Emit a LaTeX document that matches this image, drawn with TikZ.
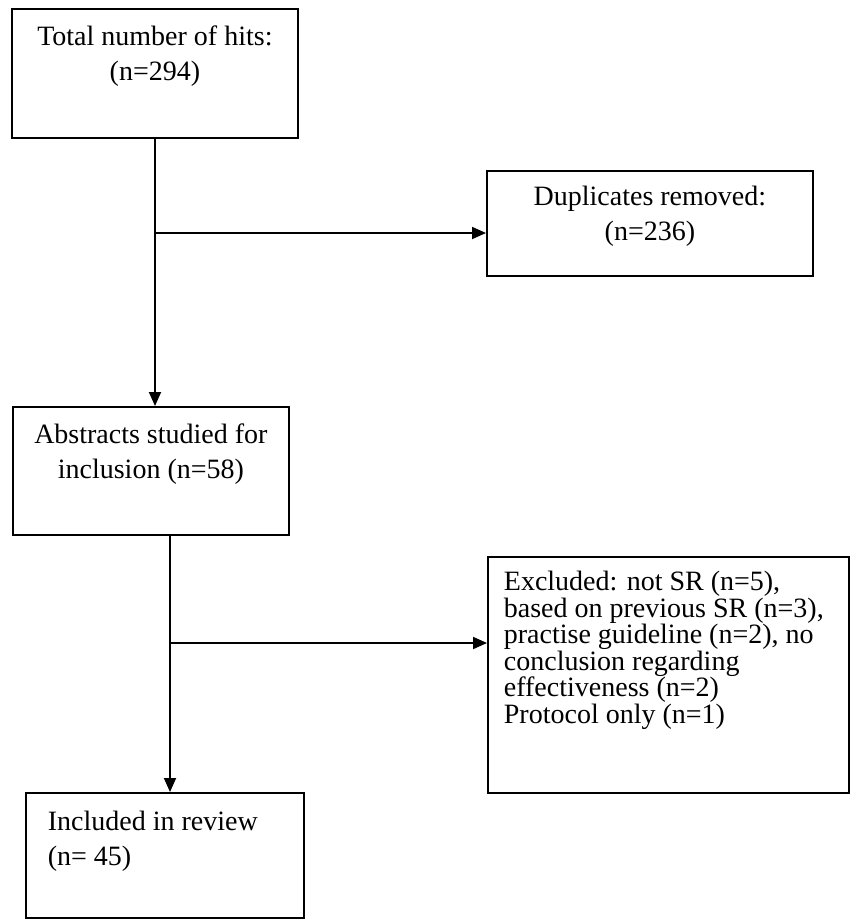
\documentclass[tikz,border=0pt]{standalone}
\usepackage{fontspec}
\setmainfont{Liberation Serif}
\usetikzlibrary{arrows.meta}
\tikzset{
  box/.style={draw, line width=1.8pt, anchor=north west, inner sep=0pt, font=\fontsize{28}{35}\selectfont},
  flow/.style={line width=1.8pt, -{Triangle[length=14pt,width=12pt]}}
}
% text of a box: width, height, top to first baseline, text
\def\boxtext#1#2#3#4{\parbox[c][#2][t]{#1}{\rule{0pt}{#3}#4}}

\begin{document}
\begin{tikzpicture}[x=1pt, y=-1pt]
		%%%%% START %%%%%
		\useasboundingbox[fill=white] (0, 0) rectangle (850, 919);
		
		\node[box] (tot) at (11, 8) {\boxtext{286pt}{129pt}{37pt}{\centering Total number of hits:\\(n=294)}};
		\node[box] (dup) at (486, 170) {\boxtext{326pt}{105pt}{35pt}{\centering Duplicates removed:\\(n=236)}};
		\node[box] (abs) at (12, 406) {\boxtext{276pt}{128pt}{37pt}{\centering Abstracts studied for\\inclusion (n=58)}};
		\node[box] (exc) at (487, 556) {\boxtext{361pt}{236pt}{34pt}{\fontsize{28}{23}\selectfont\leftskip=16pt
			Excluded: not SR (n=5),\\based on previous SR (n=3),\\practise guideline (n=2), no\\conclusion regarding\\effectiveness (n=2)\\Protocol only (n=1)}};
		\node[box] (inc) at (25, 792) {\boxtext{278pt}{125pt}{38pt}{\leftskip=22pt Included in review\\(n= 45)}};
		
		% main line and side branches
		\coordinate (b1) at (155, 233);
		\coordinate (b2) at (170, 643);
		\draw[flow] (tot.south -| b1) -- (b1 |- abs.north);
		\draw[flow] (b1) -- (b1 -| dup.west);
		\draw[flow] (abs.south -| b2) -- (b2 |- inc.north);
		\draw[flow] (b2) -- (b2 -| exc.west);
		
		%%%%% END %%%%%
	\end{tikzpicture}
\end{document}
